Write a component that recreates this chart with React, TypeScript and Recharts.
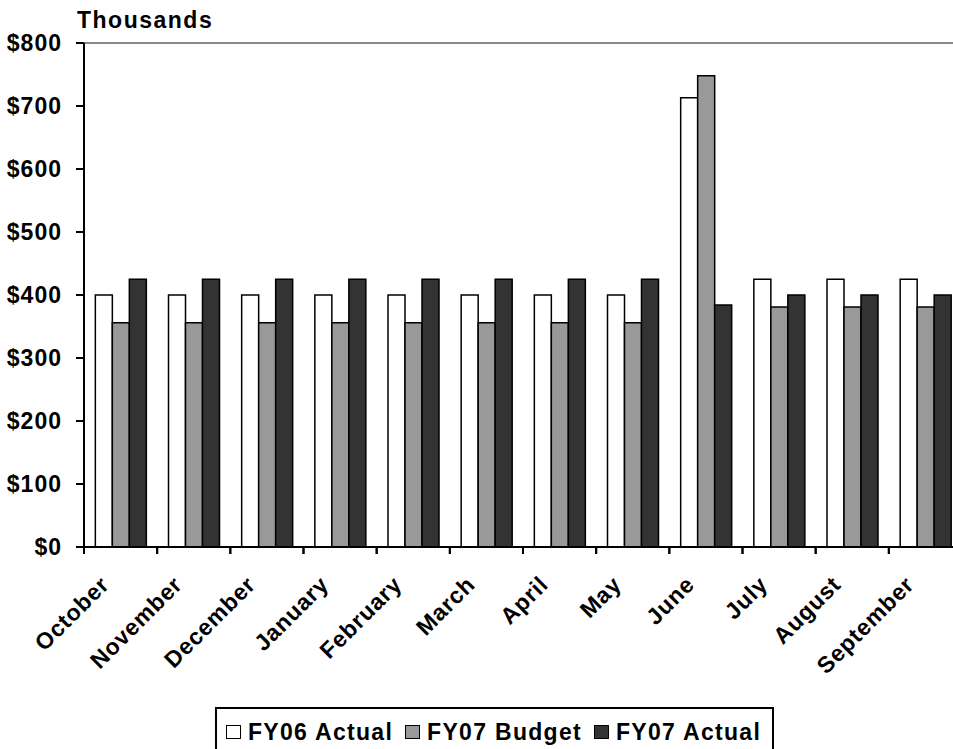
import { BarChart, Bar, XAxis, YAxis, ReferenceLine, Legend } from "recharts"

const months = [
  "October",
  "November",
  "December",
  "January",
  "February",
  "March",
  "April",
  "May",
  "June",
  "July",
  "August",
  "September",
]
const fy06Actual = [400, 400, 400, 400, 400, 400, 400, 400, 713, 425, 425, 425]
const fy07Budget = [356, 356, 356, 356, 356, 356, 356, 356, 748, 381, 381, 381]
const fy07Actual = [425, 425, 425, 425, 425, 425, 425, 425, 384, 400, 400, 400]
const yTicks = [0, 100, 200, 300, 400, 500, 600, 700, 800]

const seriesInfo = [
  { key: "fy06", name: "FY06 Actual", fill: "#ffffff" },
  { key: "budget", name: "FY07 Budget", fill: "#999999" },
  { key: "fy07", name: "FY07 Actual", fill: "#333333" },
]

const data = months.map((month, i) => ({
  month,
  fy06: fy06Actual[i],
  budget: fy07Budget[i],
  fy07: fy07Actual[i],
}))

const font = "'Liberation Sans', Arial, sans-serif"

// month label plus a tick mark on the left edge of its band (excel style)
function MonthTick(props: any) {
  const { x, y, payload } = props
  const half = payload.offset || 0
  return (
    <g>
      <line x1={x - half} y1={y} x2={x - half} y2={y + 7} stroke="#000" strokeWidth={2} />
      <line x1={x + half} y1={y} x2={x + half} y2={y + 7} stroke="#000" strokeWidth={2} />
      <g transform={`translate(${x - 10},${y + 39}) rotate(-45)`}>
        <text
          x={0}
          y={0}
          textAnchor="end"
          fontFamily={font}
          fontWeight="bold"
          fontSize={23}
          letterSpacing={0.8}
          fill="#000"
        >
          {payload.value}
        </text>
      </g>
    </g>
  )
}

function LegendBox() {
  return (
    <div
      style={{
        boxSizing: "border-box",
        width: 559,
        height: 60,
        border: "2px solid #000",
        display: "flex",
        alignItems: "flex-start",
        paddingTop: 11,
        paddingLeft: 9,
        fontFamily: font,
        fontWeight: "bold",
        fontSize: 23,
        letterSpacing: 1.3,
        color: "#000",
        lineHeight: "24px",
        whiteSpace: "nowrap",
      }}
    >
      {seriesInfo.map((s) => (
        <div key={s.key} style={{ display: "flex", alignItems: "center", marginRight: 12, flexShrink: 0 }}>
          <span
            style={{
              display: "inline-block",
              boxSizing: "border-box",
              width: 15,
              height: 14,
              background: s.fill,
              border: "1.5px solid #000",
              marginRight: 7,
              flexShrink: 0,
            }}
          />
          <span>{s.name}</span>
        </div>
      ))}
    </div>
  )
}

export default function App() {
  return (
    <div
      style={{
        position: "absolute",
        left: 0,
        top: 0,
        width: 953,
        height: 749,
        overflow: "hidden",
        background: "#fff",
      }}
    >
      <BarChart
        width={976}
        height={749}
        data={data}
        margin={{ top: 43, right: 14, bottom: 0, left: 0 }}
        barCategoryGap="15.5%"
        barGap={0}
      >
        <ReferenceLine y={800} stroke="#888888" strokeWidth={2} />
        <XAxis
          dataKey="month"
          height={202}
          interval={0}
          axisLine={{ stroke: "#000", strokeWidth: 2 }}
          tickLine={false}
          tickSize={0}
          tickMargin={0}
          tick={<MonthTick />}
        />
        <YAxis
          width={84}
          domain={[0, 800]}
          ticks={yTicks}
          interval={0}
          tickFormatter={(v) => `$${v}`}
          tickSize={8}
          tickMargin={14}
          axisLine={{ stroke: "#000", strokeWidth: 2 }}
          tickLine={{ stroke: "#000", strokeWidth: 2 }}
          tick={{ fontFamily: font, fontWeight: "bold", fontSize: 23, fill: "#000", letterSpacing: 1 }}
          label={{
            content: (p: any) => (
              <text
                x={p.viewBox.x + 77}
                y={p.viewBox.y - 15}
                fontFamily={font}
                fontWeight="bold"
                fontSize={23}
                letterSpacing={1.5}
                fill="#000"
              >
                Thousands
              </text>
            ),
          }}
        />
        {seriesInfo.map((s) => (
          <Bar
            key={s.key}
            dataKey={s.key}
            name={s.name}
            fill={s.fill}
            stroke="#000"
            strokeWidth={1.5}
            isAnimationActive={false}
          />
        ))}
        <Legend
          layout="horizontal"
          verticalAlign="middle"
          align="center"
          content={<LegendBox />}
          wrapperStyle={{ top: 707, left: 215, width: 559 }}
        />
      </BarChart>
    </div>
  )
}
